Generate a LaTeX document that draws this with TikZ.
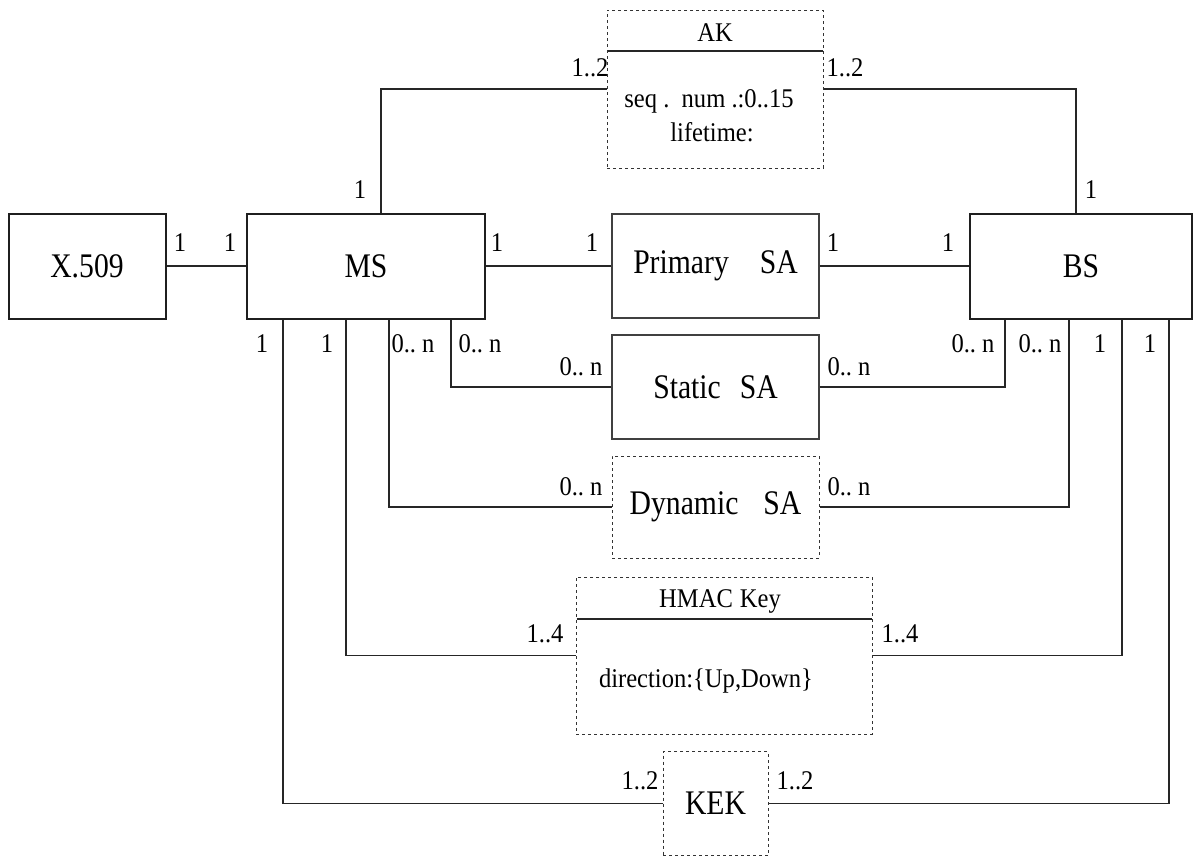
\documentclass[tikz,border=0pt]{standalone}
\usepackage{fontspec}
\setmainfont[FakeStretch=0.86]{Liberation Serif}
\newfontfamily\smallfam[FakeStretch=0.91]{Liberation Serif}
\begin{document}
\begin{tikzpicture}[x=1pt,y=-1pt,
  thickbox/.style={draw=black!88, line width=2pt, inner sep=0pt, font=\fontsize{34.5}{36}\selectfont},
  thinbox/.style={draw=black!75, line width=1.2pt, inner sep=0pt, font=\fontsize{34.5}{36}\selectfont},
  dbox/.style={draw=black!80, line width=1pt, dash pattern=on 3pt off 3pt, inner sep=0pt, font=\fontsize{34.5}{36}\selectfont},
  conn/.style={draw=black!85, line width=1.8pt},
  lbl/.style={inner sep=0pt, font=\smallfam\fontsize{27}{29}\selectfont},
  txt/.style={inner sep=0pt, font=\smallfam\fontsize{27}{29}\selectfont}
]
\useasboundingbox (0,0) rectangle (1198,857);
% main boxes
\node[thickbox, minimum width=157pt, minimum height=105pt] (x509) at (87,266) {X.509};
\node[thickbox, minimum width=238pt, minimum height=105pt] (ms) at (366,266) {MS};
\node[thickbox, minimum width=222pt, minimum height=105pt] (bs) at (1081,266) {BS};
\node[thinbox, minimum width=207pt, minimum height=104pt] (psa) at (715.5,266) {Primary\hspace{31pt}SA};
\node[thinbox, minimum width=207pt, minimum height=104pt] (ssa) at (715.5,387) {Static\hspace{19pt}SA};
\node[dbox, minimum width=207pt, minimum height=102pt] (dsa) at (715.5,507) {Dynamic\hspace{25pt}SA};
% AK
\node[dbox, minimum width=216pt, minimum height=158pt] (ak) at (715,89) {};
\node[txt] (aktitle) at (715,33) {AK};
\draw[conn, line width=1.6pt] ([xshift=1pt]ak.west |- 0,51) coordinate (akl) -- ([xshift=-1pt]ak.east |- 0,51) coordinate (akr);
\node[txt] (akseq) at (709,101) {seq~.\ \ num~.:0..15};
\node[txt] (aklife) at (712,132) {lifetime:};
% HMAC
\node[dbox, minimum width=296pt, minimum height=157pt] (hmac) at (724,655.5) {};
\node[txt] (hmtitle) at (720,601) {HMAC\hspace{7pt}Key};
\draw[conn, line width=1.6pt] ([xshift=1pt]hmac.west |- 0,619) coordinate (hml) -- ([xshift=-1pt]hmac.east |- 0,619) coordinate (hmr);
\node[txt] (hmdir) at (706,681) {direction:\{Up,Down\}};
% KEK
\node[dbox, minimum width=105pt, minimum height=104pt] (kek) at (715.5,803.5) {KEK};
% connectors
\draw[conn] (x509.east) -- (ms.west);
\draw[conn] (ms.east) -- (psa.west);
\draw[conn] (psa.east) -- (bs.west);
\draw[conn] ([xshift=15pt]ms.north) |- (ak.west);
\draw[conn] (ak.east) -| ([xshift=-5pt]bs.north);
\draw[conn] ([xshift=85pt]ms.south) |- (ssa.west);
\draw[conn] (ssa.east) -| ([xshift=-76pt]bs.south);
\draw[conn] ([xshift=23pt]ms.south) |- (dsa.west);
\draw[conn] (dsa.east) -| ([xshift=-12pt]bs.south);
\draw[conn] ([xshift=-20pt]ms.south) |- (hmac.west);
\draw[conn] (hmac.east) -| ([xshift=41pt]bs.south);
\draw[conn] ([xshift=-83pt]ms.south) |- (kek.west);
\draw[conn] (kek.east) -| ([xshift=88pt]bs.south);
% multiplicity labels
\node[lbl] (l1) at (180,243) {1};
\node[lbl] (l2) at (230,243) {1};
\node[lbl] (l3) at (497,243) {1};
\node[lbl] (l4) at (592,243) {1};
\node[lbl] (l5) at (833,243) {1};
\node[lbl] (l6) at (948,243) {1};
\node[lbl] (l7) at (590,68) {1..2};
\node[lbl] (l8) at (845,68) {1..2};
\node[lbl] (l9) at (360,190) {1};
\node[lbl] (l10) at (1091,190) {1};
\node[lbl] (l11) at (262,344) {1};
\node[lbl] (l12) at (327,344) {1};
\node[lbl] (l13) at (413,344) {0..\ n};
\node[lbl] (l14) at (480,344) {0..\ n};
\node[lbl] (l15) at (973,344) {0..\ n};
\node[lbl] (l16) at (1040,344) {0..\ n};
\node[lbl] (l17) at (1100,344) {1};
\node[lbl] (l18) at (1150,344) {1};
\node[lbl] (l19) at (581,367) {0..\ n};
\node[lbl] (l20) at (849,367) {0..\ n};
\node[lbl] (l21) at (581,487) {0..\ n};
\node[lbl] (l22) at (849,487) {0..\ n};
\node[lbl] (l23) at (545,634) {1..4};
\node[lbl] (l24) at (900,634) {1..4};
\node[lbl] (l25) at (640,781) {1..2};
\node[lbl] (l26) at (795,781) {1..2};
\end{tikzpicture}
\end{document}
